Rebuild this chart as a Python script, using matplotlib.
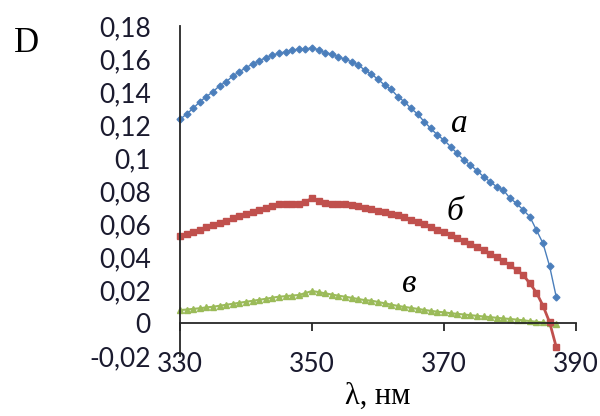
import matplotlib.pyplot as plt

# wavelength, nm (one point per nm)
wavelength = [330, 331, 332, 333, 334, 335, 336, 337, 338, 339,
              340, 341, 342, 343, 344, 345, 346, 347, 348, 349,
              350, 351, 352, 353, 354, 355, 356, 357, 358, 359,
              360, 361, 362, 363, 364, 365, 366, 367, 368, 369,
              370, 371, 372, 373, 374, 375, 376, 377, 378, 379,
              380, 381, 382, 383, 384, 385, 386, 387]

curve_a = [0.1234, 0.1267, 0.1301, 0.1341, 0.1372, 0.1402, 0.1438, 0.1462, 0.1497, 0.1523,
           0.1547, 0.1570, 0.1590, 0.1608, 0.1624, 0.1634, 0.1644, 0.1655, 0.1659, 0.1659,
           0.1669, 0.1655, 0.1638, 0.1630, 0.1614, 0.1598, 0.1584, 0.1564, 0.1533, 0.1509,
           0.1477, 0.1442, 0.1416, 0.1372, 0.1341, 0.1301, 0.1267, 0.1220, 0.1180, 0.1139,
           0.1109, 0.1069, 0.1028, 0.0988, 0.0958, 0.0923, 0.0887, 0.0856, 0.0826, 0.0806,
           0.0756, 0.0725, 0.0685, 0.0645, 0.0564, 0.0483, 0.0345, 0.0160]

curve_b = [0.0527, 0.0540, 0.0552, 0.0564, 0.0580, 0.0594, 0.0608, 0.0620, 0.0634, 0.0647,
           0.0659, 0.0671, 0.0683, 0.0695, 0.0709, 0.0721, 0.0724, 0.0723, 0.0721, 0.0735,
           0.0756, 0.0738, 0.0725, 0.0722, 0.0722, 0.0721, 0.0716, 0.0709, 0.0697, 0.0689,
           0.0680, 0.0672, 0.0663, 0.0652, 0.0640, 0.0626, 0.0612, 0.0598, 0.0581, 0.0566,
           0.0550, 0.0532, 0.0516, 0.0499, 0.0482, 0.0462, 0.0442, 0.0421, 0.0398, 0.0375,
           0.0350, 0.0322, 0.0291, 0.0241, 0.0185, 0.0105, 0.0005, -0.0144]

curve_v = [0.0079, 0.0082, 0.0086, 0.0090, 0.0095, 0.0099, 0.0105, 0.0111, 0.0117, 0.0123,
           0.0129, 0.0135, 0.0141, 0.0147, 0.0154, 0.0160, 0.0163, 0.0167, 0.0170, 0.0182,
           0.0194, 0.0188, 0.0180, 0.0173, 0.0166, 0.0160, 0.0153, 0.0146, 0.0139, 0.0136,
           0.0128, 0.0120, 0.0112, 0.0104, 0.0098, 0.0092, 0.0086, 0.0080, 0.0074, 0.0069,
           0.0065, 0.0060, 0.0056, 0.0052, 0.0048, 0.0044, 0.0040, 0.0036, 0.0032, 0.0028,
           0.0025, 0.0021, 0.0017, 0.0012, 0.0008, 0.0004, 0.0000, -0.0004]

x_ticks = [330, 350, 370, 390]
y_ticks = [-0.02, 0, 0.02, 0.04, 0.06, 0.08, 0.1, 0.12, 0.14, 0.16, 0.18]
y_tick_labels = ["-0,02", "0", "0,02", "0,04", "0,06", "0,08", "0,1", "0,12", "0,14", "0,16", "0,18"]

fig = plt.figure(figsize=(6, 4.16), dpi=100)
ax = fig.add_axes([0.3, 0.144, 0.66, 0.7935])

ax.plot(wavelength, curve_v, color='#9BBB59', lw=1.5, marker='^', ms=4, mec='#9BBB59', clip_on=False)
ax.plot(wavelength, curve_b, color='#C0504D', lw=2, marker='s', ms=5, mec='#C0504D', clip_on=False)
ax.plot(wavelength, curve_a, color='#4A7EBB', lw=1, marker='D', ms=3.5, mec='#4F81BD', clip_on=False)

ax.set_xlim(330, 390)
ax.set_ylim(-0.02, 0.18)
ax.set_xticks(x_ticks)
ax.set_yticks(y_ticks)
ax.set_yticklabels(y_tick_labels)

for s in ['top', 'right']:
    ax.spines[s].set_visible(False)
ax.spines['bottom'].set_position(('data', 0))
for s in ['left', 'bottom']:
    ax.spines[s].set_color('#262626')
    ax.spines[s].set_linewidth(1.3)

ax.tick_params(axis='x', direction='out', length=6, width=1.3, color='#262626', pad=15)
ax.tick_params(axis='y', length=0, pad=21)
for lbl in ax.get_xticklabels() + ax.get_yticklabels():
    lbl.set_fontfamily('Lato')
    lbl.set_fontsize(19)
    lbl.set_color('#1a1a2e')

# curve labels
ax.text(372.4, 0.121, 'а', family='Liberation Serif', style='italic', fontsize=24, ha='center', va='center')
ax.text(371.7, 0.0675, 'б', family='Liberation Serif', style='italic', fontsize=24, ha='center', va='center')
ax.text(364.8, 0.024, 'в', family='Liberation Serif', style='italic', fontsize=24, ha='center', va='center')

fig.text(0.023, 0.875, 'D', family='Liberation Serif', fontsize=25, va='baseline')
fig.text(0.63, 0.03, 'λ, нм', family='Liberation Serif', fontsize=22, ha='center', va='baseline')

fig.savefig('out.png', dpi=100)
